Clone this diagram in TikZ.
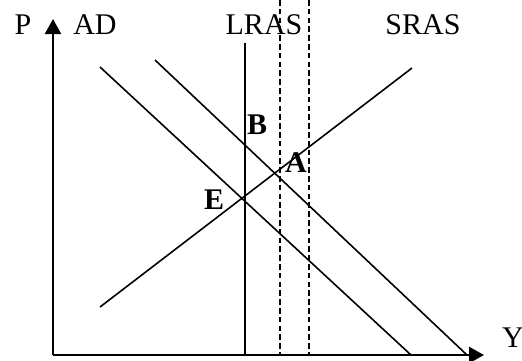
\documentclass[tikz,border=0pt]{standalone}
\usepackage{fontspec}
\setmainfont{Liberation Serif}
\usetikzlibrary{arrows.meta}

\begin{document}
\begin{tikzpicture}[x=0.5pt,y=-0.5pt,
    axis/.style={line width=1.2pt,-{Triangle[length=7.5pt,width=8pt]}},
    curve/.style={line width=0.8pt},
    shifted/.style={line width=0.8pt,dash pattern=on 2.8pt off 1.6pt},
    lbl/.style={font=\fontsize{15}{18}\selectfont, inner sep=0pt},
    pt/.style={font=\fontsize{15}{18}\selectfont\bfseries, inner sep=0pt}]
    \useasboundingbox (0,0) rectangle (522,360);
    % axes
    \coordinate (O) at (53,355);
    \coordinate (Ptip) at (53,19);
    \coordinate (Ytip) at (484,355);
    \draw[axis] (O) -- (Ptip);
    \draw[axis] (O) -- (Ytip);
    % curves
    \coordinate (lrasTop) at (245,43);
    \coordinate (lrasBot) at (245,355);
    \coordinate (dashAtop) at (280,0);
    \coordinate (dashAbot) at (280,355);
    \coordinate (dashBtop) at (309,0);
    \coordinate (dashBbot) at (309,355);
    \coordinate (adOneTop) at (100,67);
    \coordinate (adOneBot) at (411,355);
    \coordinate (adTwoTop) at (155,60);
    \coordinate (adTwoBot) at (467,355);
    \coordinate (srasBot) at (100,307);
    \coordinate (srasTop) at (412,68);
    \draw[curve] (lrasTop) -- (lrasBot);
    \draw[shifted] (dashAtop) -- (dashAbot);
    \draw[shifted] (dashBtop) -- (dashBbot);
    \draw[curve] (adOneTop) -- (adOneBot);
    \draw[curve] (adTwoTop) -- (adTwoBot);
    \draw[curve] (srasBot) -- (srasTop);
    % labels
    \node[lbl] (labP) at (23,25) {P};
    \node[lbl] (labAD) at (95,25) {AD};
    \node[lbl] (labLRAS) at (264,25) {LRAS};
    \node[lbl] (labSRAS) at (423,25) {SRAS};
    \node[lbl] (labY) at (513,338) {Y};
    \node[pt] (labB) at (257,125) {B};
    \node[pt] (labA) at (296,163) {A};
    \node[pt] (labE) at (214,200) {E};
\end{tikzpicture}
\end{document}
